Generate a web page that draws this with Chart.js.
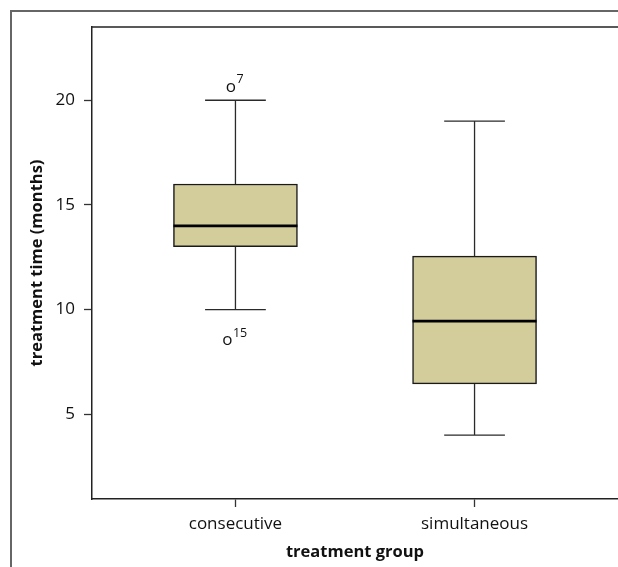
<!DOCTYPE html>
<html><head><meta charset="utf-8">
<script src="https://cdn.jsdelivr.net/npm/chart.js@4"></script>
<style>html,body{margin:0;padding:0;background:#fff;overflow:hidden}#wrap{position:relative;width:618px;height:567px}</style>
</head><body><div id="wrap"><canvas id="c" width="618" height="567"></canvas></div>
<script>
const categories = ['consecutive', 'simultaneous'];
const positions = [1, 2];
const whiskerLow = [10, 4];
const q1 = [13, 6.45];
const median = [14, 9.45];
const q3 = [16, 12.55];
const whiskerHigh = [20, 19];
const outlierGroup = [0, 0];
const outlierValue = [20.6, 8.5];
const outlierLabel = ['7', '15'];
const yTicks = [5, 10, 15, 20];

const FONT = "'Open Sans', 'Noto Sans', sans-serif";
const INK = '#111';

const framePlugin = {
  id: 'frame',
  beforeDraw(chart) {
    const ctx = chart.ctx;
    ctx.save();
    ctx.strokeStyle = '#666';
    ctx.lineWidth = 2;
    ctx.beginPath();
    ctx.moveTo(11, 567);
    ctx.lineTo(11, 11);
    ctx.lineTo(618, 11);
    ctx.stroke();
    const a = chart.chartArea;
    ctx.strokeStyle = '#222';
    ctx.lineWidth = 1.5;
    ctx.beginPath();
    ctx.moveTo(a.left, a.top);
    ctx.lineTo(a.right, a.top);
    ctx.stroke();
    ctx.restore();
  }
};

const boxPlugin = {
  id: 'boxparts',
  afterDatasetsDraw(chart) {
    const ctx = chart.ctx;
    const xs = chart.scales.x, ys = chart.scales.y;
    const meta = chart.getDatasetMeta(0);
    ctx.save();
    positions.forEach((p, i) => {
      const cx = xs.getPixelForValue(p);
      const bw = meta.data[i].width;
      const capHalf = bw * 0.245;
      ctx.strokeStyle = '#2a2a2a';
      ctx.lineWidth = 1.3;
      ctx.beginPath();
      ctx.moveTo(cx, ys.getPixelForValue(q3[i]));
      ctx.lineTo(cx, ys.getPixelForValue(whiskerHigh[i]));
      ctx.moveTo(cx - capHalf, ys.getPixelForValue(whiskerHigh[i]));
      ctx.lineTo(cx + capHalf, ys.getPixelForValue(whiskerHigh[i]));
      ctx.moveTo(cx, ys.getPixelForValue(q1[i]));
      ctx.lineTo(cx, ys.getPixelForValue(whiskerLow[i]));
      ctx.moveTo(cx - capHalf, ys.getPixelForValue(whiskerLow[i]));
      ctx.lineTo(cx + capHalf, ys.getPixelForValue(whiskerLow[i]));
      ctx.stroke();
      ctx.strokeStyle = '#000';
      ctx.lineWidth = 2.6;
      ctx.beginPath();
      ctx.moveTo(cx - bw / 2, ys.getPixelForValue(median[i]));
      ctx.lineTo(cx + bw / 2, ys.getPixelForValue(median[i]));
      ctx.stroke();
    });
    outlierValue.forEach((v, k) => {
      const cx = xs.getPixelForValue(positions[outlierGroup[k]]);
      const cy = ys.getPixelForValue(v);
      ctx.fillStyle = INK;
      ctx.font = '17px ' + FONT;
      const wo = ctx.measureText('o').width;
      ctx.font = '12.5px ' + FONT;
      const ws = ctx.measureText(outlierLabel[k]).width;
      const x0 = cx - (wo + ws) / 2 - 1;
      ctx.font = '17px ' + FONT;
      ctx.textBaseline = 'middle';
      ctx.textAlign = 'left';
      ctx.fillText('o', x0, cy - 1);
      ctx.font = '12.5px ' + FONT;
      ctx.fillText(outlierLabel[k], x0 + wo + 0.5, cy - 8);
    });
    ctx.restore();
  }
};

new Chart(document.getElementById('c'), {
  type: 'bar',
  data: {
    datasets: [{
      data: positions.map((p, i) => ({ x: p, y: [q1[i], q3[i]] })),
      backgroundColor: '#d3cd9b',
      borderColor: '#1a1a1a',
      borderWidth: 1.5,
      borderSkipped: false,
      barThickness: 124
    }]
  },
  options: {
    responsive: false,
    animation: false,
    events: [],
    layout: { padding: { top: 27, left: 0, right: 0, bottom: 0 } },
    plugins: { legend: { display: false }, tooltip: { enabled: false } },
    scales: {
      x: {
        type: 'linear',
        offset: false,
        min: 0.4,
        max: 2.6,
        afterBuildTicks: s => { s.ticks = positions.map(v => ({ value: v })); },
        afterFit: s => { s.height = 68; },
        ticks: {
          autoSkip: false,
          maxRotation: 0,
          callback: v => categories[positions.indexOf(v)],
          font: { family: FONT, size: 17 },
          color: INK,
          padding: 7
        },
        grid: { offset: false, drawOnChartArea: false, drawTicks: true, tickLength: 8, color: '#333', tickWidth: 1.3 },
        border: { color: '#222', width: 1.5 },
        title: {
          display: true,
          text: 'treatment group',
          font: { family: FONT, size: 16.5, weight: 'bold' },
          color: INK,
          padding: { top: 0, bottom: 5 }
        }
      },
      y: {
        min: 0.95,
        max: 23.5,
        afterBuildTicks: s => { s.ticks = yTicks.map(v => ({ value: v })); },
        afterFit: s => { s.width = 92; },
        ticks: {
          font: { family: FONT, size: 17 },
          color: INK,
          padding: 9
        },
        grid: { drawOnChartArea: false, drawTicks: true, tickLength: 8, color: '#333', tickWidth: 1.3 },
        border: { color: '#222', width: 1.5 },
        title: {
          display: true,
          text: 'treatment time (months)',
          font: { family: FONT, size: 16.5, weight: 'bold' },
          color: INK,
          padding: { top: 27, bottom: 0 }
        }
      }
    }
  },
  plugins: [framePlugin, boxPlugin]
});
</script>
</body></html>
